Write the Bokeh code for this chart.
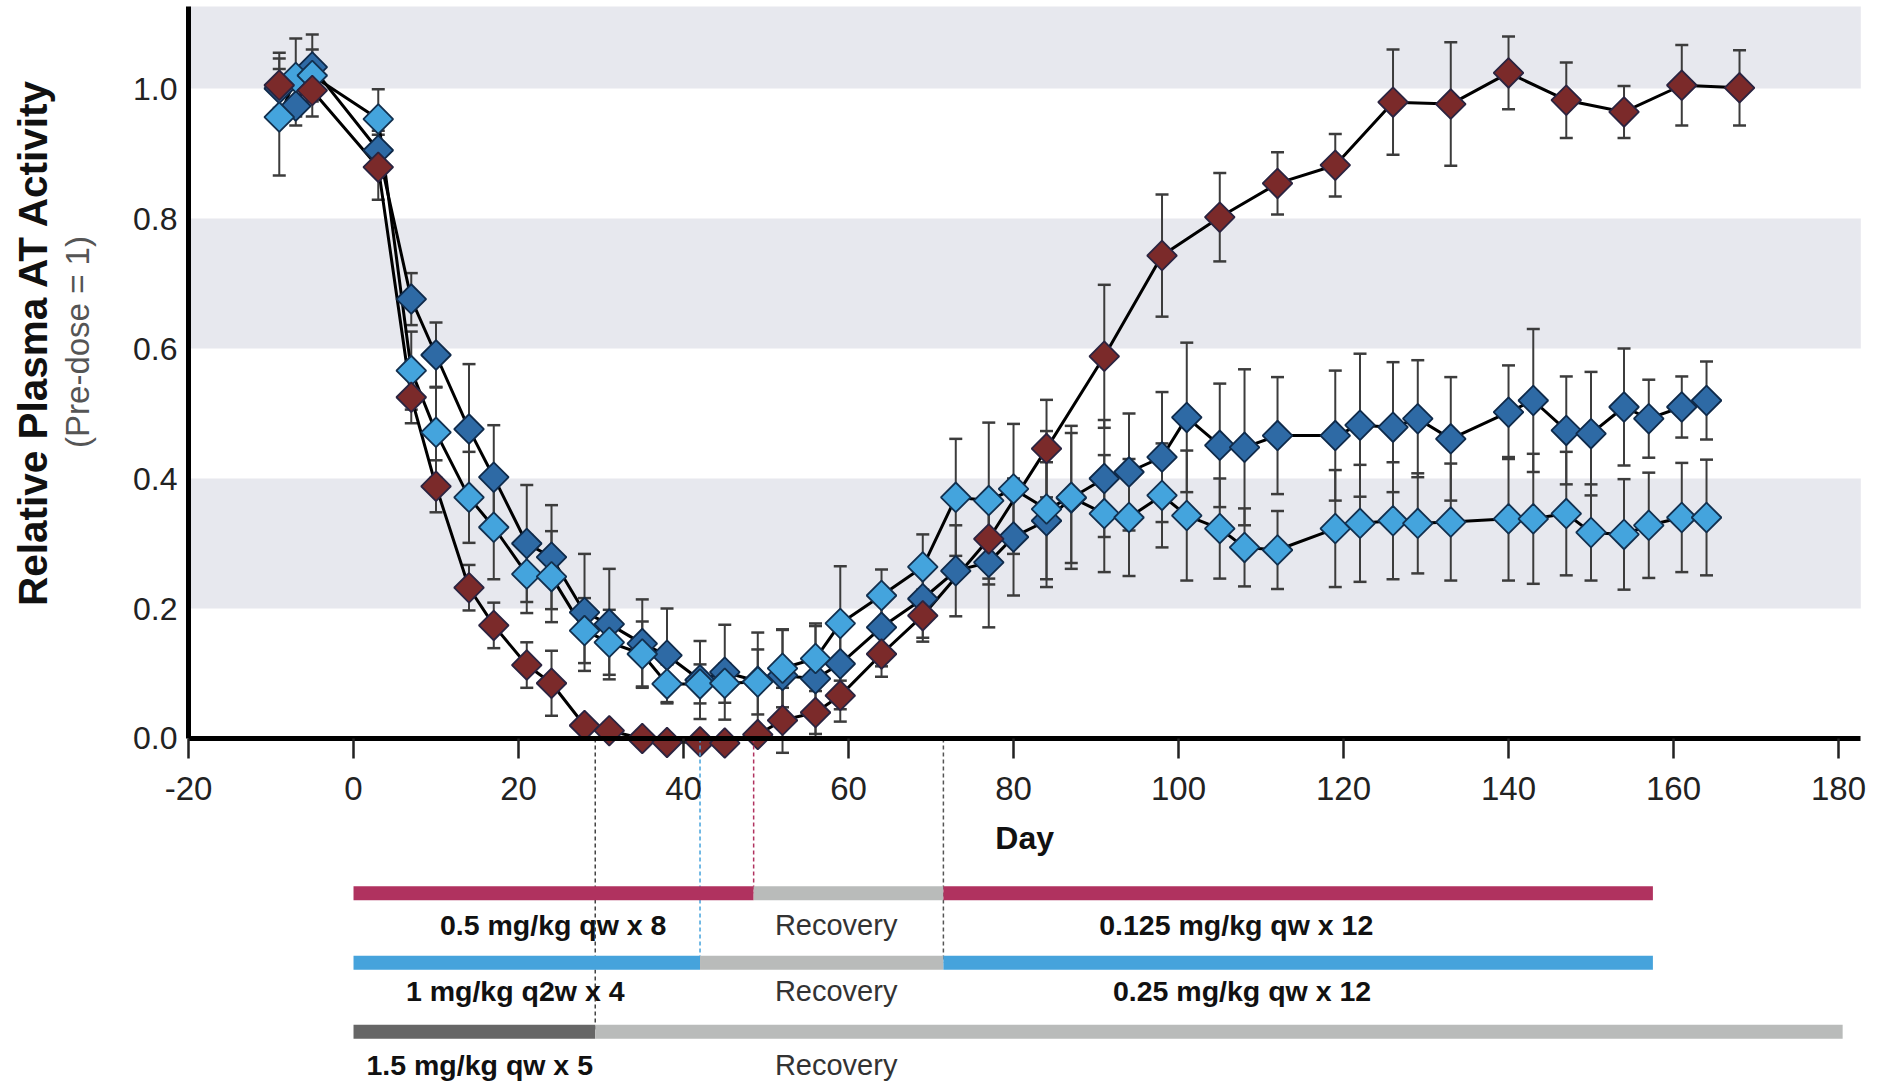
import math
from bokeh.plotting import figure
from bokeh.models import (Range1d, FixedTicker, BoxAnnotation, Whisker, TeeHead,
                          ColumnDataSource, Label, PrintfTickFormatter)
from bokeh.core.properties import value
from bokeh.embed import file_html
from bokeh.resources import INLINE

FONT = "Liberation Sans"

# ---------------- data ----------------
x_ticks = [-20, 0, 20, 40, 60, 80, 100, 120, 140, 160, 180]
y_ticks = [0.0, 0.2, 0.4, 0.6, 0.8, 1.0]
band_lows = [0.2, 0.6, 1.0]
band_highs = [0.4, 0.8, 1.126]

red_day = [-9, -5, 3, 7, 10, 14, 17, 21, 24, 28, 31, 35, 38, 42, 45, 49, 52, 56, 59,
           64, 69, 77, 84, 91, 98, 105, 112, 119, 126, 133, 140, 147, 154, 161, 168]
red_val = [1.005, 0.997, 0.879, 0.525, 0.388, 0.232, 0.174, 0.113, 0.085, 0.020, 0.012,
           0.000, -0.006, -0.005, -0.007, 0.006, 0.028, 0.040, 0.066, 0.130, 0.189,
           0.307, 0.446, 0.588, 0.743, 0.802, 0.854, 0.882, 0.979, 0.976, 1.024, 0.982,
           0.964, 1.005, 1.001]
red_err = [0.05, 0.04, 0.05, 0.04, 0.04, 0.035, 0.035, 0.035, 0.05, 0.012, 0.012,
           0.012, 0.012, 0.01, 0.012, 0.012, 0.05, 0.04, 0.04, 0.035, 0.04,
           0.07, 0.075, 0.11, 0.094, 0.068, 0.048, 0.048, 0.081, 0.095, 0.056, 0.058,
           0.04, 0.062, 0.058]

blue_day = [-9, -7, -5, 3, 7, 10, 14, 17, 21, 24, 28, 31, 35, 38, 42, 45, 49, 52, 56, 59,
            64, 69, 73, 77, 80, 84, 87, 91, 94, 98, 101, 105, 108, 112, 119, 122, 126,
            129, 133, 140, 143, 147, 150, 154, 157, 161, 164]
dark_val = [1.000, 0.973, 1.033, 0.905, 0.676, 0.590, 0.476, 0.402, 0.300, 0.279, 0.194,
            0.176, 0.146, 0.128, 0.090, 0.102, 0.088, 0.097, 0.092, 0.115, 0.171, 0.215,
            0.258, 0.271, 0.310, 0.335, 0.370, 0.400, 0.410, 0.433, 0.494, 0.451, 0.448,
            0.466, 0.466, 0.482, 0.479, 0.492, 0.461, 0.502, 0.520, 0.474, 0.469, 0.510,
            0.492, 0.510, 0.520]
dark_err = [0.03, 0.03, 0.05, 0.03, 0.04, 0.05, 0.10, 0.08, 0.09, 0.08, 0.09, 0.085,
            0.068, 0.072, 0.06, 0.073, 0.075, 0.07, 0.085, 0.07, 0.06, 0.06, 0.07, 0.10,
            0.09, 0.09, 0.10, 0.09, 0.09, 0.10, 0.115, 0.095, 0.12, 0.09, 0.10, 0.11,
            0.10, 0.09, 0.095, 0.072, 0.11, 0.083, 0.095, 0.09, 0.06, 0.047, 0.06]
light_val = [0.956, 1.017, 1.020, 0.953, 0.566, 0.471, 0.371, 0.325, 0.253, 0.249, 0.166,
             0.148, 0.130, 0.084, 0.084, 0.085, 0.087, 0.108, 0.123, 0.177, 0.220, 0.264,
             0.371, 0.366, 0.384, 0.353, 0.371, 0.346, 0.340, 0.374, 0.343, 0.323, 0.294,
             0.290, 0.323, 0.331, 0.335, 0.331, 0.333, 0.338, 0.338, 0.346, 0.317, 0.314,
             0.328, 0.340, 0.340]
light_err = [0.09, 0.06, 0.04, 0.046, 0.06, 0.07, 0.07, 0.08, 0.06, 0.07, 0.05, 0.05,
             0.05, 0.03, 0.03, 0.03, 0.05, 0.06, 0.05, 0.088, 0.04, 0.05, 0.09, 0.12,
             0.10, 0.12, 0.11, 0.09, 0.09, 0.08, 0.10, 0.077, 0.06, 0.06, 0.09, 0.09,
             0.09, 0.077, 0.09, 0.095, 0.10, 0.095, 0.074, 0.085, 0.081, 0.084, 0.089]

# dosing schedule (days)
sched_start = [0, 48.5, 71.5, 0, 42, 71.5, 0, 29.3]
sched_end = [48.5, 71.5, 157.5, 42, 71.5, 157.5, 29.3, 180.5]
sched_row = [0, 0, 0, 1, 1, 1, 2, 2]
sched_kind = ["mag", "rec", "mag", "blue", "rec", "blue", "dose", "rec"]

stop_day = [29.3, 42, 48.5, 71.5]
stop_row = [2, 1, 0, 1]
stop_kind = ["dose", "blue", "mag", "gray"]

label_text = ["0.5 mg/kg qw x 8", "Recovery", "0.125 mg/kg qw x 12",
              "1 mg/kg q2w x 4", "Recovery", "0.25 mg/kg qw x 12",
              "1.5 mg/kg qw x 5", "Recovery"]
label_day = [24.2, 58.5, 107.0, 19.6, 58.5, 107.7, 15.3, 58.5]
label_row = [0, 0, 0, 1, 1, 1, 2, 2]
label_bold = [True, False, True, True, False, True, True, False]

# ---------------- layout / style ----------------
AX_X0, AX_X1 = -20, 182.7        # drawn extent of the x axis
AX_Y1 = 1.126                    # top of the y axis
VIEW_X = (-42.79, 186.30)
VIEW_Y = (-0.5277, 1.1354)
ROW_BAR_Y = [-0.238, -0.345, -0.451]
ROW_TEXT_Y = [-0.287, -0.389, -0.503]
COLORS = {"mag": "#b0325f", "rec": "#b9bbba", "blue": "#46a3dc", "dose": "#666666"}
DASH_COLORS = {"dose": "#444444", "blue": "#46a3dc", "mag": "#b0325f", "gray": "#555555"}

p = figure(width=1890, height=1081, x_range=Range1d(*VIEW_X), y_range=Range1d(*VIEW_Y),
           output_backend="svg", toolbar_location=None, min_border_left=0,
           min_border_right=0, min_border_top=0, min_border_bottom=0)
p.outline_line_color = None
p.grid.visible = False
p.background_fill_color = "white"
p.border_fill_color = "white"

for lo, hi in zip(band_lows, band_highs):
    p.add_layout(BoxAnnotation(bottom=lo, top=hi, left=AX_X0, right=AX_X1,
                               fill_color="#e7e8ee", fill_alpha=1.0,
                               line_color=None, level="underlay"))

xa = p.xaxis[0]
xa.fixed_location = 0
xa.bounds = (AX_X0, AX_X1)
xa.ticker = FixedTicker(ticks=x_ticks)
xa.major_label_overrides = {t: str(t) for t in x_ticks}
xa.axis_line_width = 5
xa.axis_line_color = "black"
xa.major_tick_out = 20
xa.major_tick_in = 0
xa.major_tick_line_width = 2.5
xa.major_tick_line_color = "#222222"
xa.minor_tick_line_color = None
xa.major_label_text_font = FONT
xa.major_label_text_font_size = "33px"
xa.major_label_text_color = "#222222"
xa.major_label_standoff = 19

ya = p.yaxis[0]
ya.fixed_location = AX_X0
ya.bounds = (0, AX_Y1)
ya.ticker = FixedTicker(ticks=y_ticks)
ya.formatter = PrintfTickFormatter(format="%.1f")
ya.axis_line_width = 5
ya.axis_line_color = "black"
ya.major_tick_out = 0
ya.major_tick_in = 0
ya.major_tick_line_color = None
ya.minor_tick_line_color = None
ya.major_label_text_font = FONT
ya.major_label_text_font_size = "32px"
ya.major_label_text_color = "#222222"
ya.major_label_standoff = 11

p.add_layout(Label(x=(AX_X0 + AX_X1) / 2, y=0, y_offset=-100, text="Day",
                   text_align="center", text_baseline="middle", text_font=FONT,
                   text_font_size="32px", text_font_style="bold", text_color="#111111"))
p.add_layout(Label(x=AX_X0, y=0.61, x_offset=-156, text="Relative Plasma AT Activity",
                   angle=math.pi / 2, text_align="center", text_baseline="middle",
                   text_font=FONT, text_font_size="40.5px", text_font_style="bold",
                   text_color="#111111"))
p.add_layout(Label(x=AX_X0, y=0.61, x_offset=-111, text="(Pre-dose = 1)",
                   angle=math.pi / 2, text_align="center", text_baseline="middle",
                   text_font=FONT, text_font_size="33px", text_color="#555555"))

series = [
    (blue_day, dark_val, dark_err, "#2e6aa5", "#0f2a4a"),
    (blue_day, light_val, light_err, "#44a4dd", "#12304f"),
    (red_day, red_val, red_err, "#7b2a2a", "#2b2440"),
]
sources = []
for d, v, e, fc, lc in series:
    src = ColumnDataSource(dict(x=d, y=v, upper=[a + b for a, b in zip(v, e)],
                                lower=[a - b for a, b in zip(v, e)]))
    sources.append(src)
    p.add_layout(Whisker(source=src, base="x", upper="upper", lower="lower",
                         dimension="height", line_color="#3c3c3c", line_width=2,
                         upper_head=TeeHead(size=13, line_color="#3c3c3c", line_width=2.5),
                         lower_head=TeeHead(size=13, line_color="#3c3c3c", line_width=2.5),
                         level="underlay"))

for src in sources:
    p.line("x", "y", source=src, line_color="black", line_width=3)
for src, (d, v, e, fc, lc) in zip(sources, series):
    p.scatter("x", "y", source=src, marker="square", angle=math.pi / 4, size=21,
              fill_color=fc, line_color=lc, line_width=1.8)

# dosing timeline
p.segment(x0=stop_day, y0=[0] * len(stop_day), x1=stop_day,
          y1=[ROW_BAR_Y[r] for r in stop_row],
          line_color=[DASH_COLORS[k] for k in stop_kind], line_width=1.5,
          line_dash="4 3")
p.segment(x0=sched_start, y0=[ROW_BAR_Y[r] for r in sched_row], x1=sched_end,
          y1=[ROW_BAR_Y[r] for r in sched_row],
          line_color=[COLORS[k] for k in sched_kind], line_width=14, line_cap="butt")

bold_idx = [i for i, b in enumerate(label_bold) if b]
norm_idx = [i for i, b in enumerate(label_bold) if not b]
p.text(x=[label_day[i] for i in bold_idx], y=[ROW_TEXT_Y[label_row[i]] for i in bold_idx],
       text=[label_text[i] for i in bold_idx], text_align="center",
       text_baseline="middle", text_font=value(FONT), text_font_style="bold",
       text_font_size="28.5px", text_color="#111111")
p.text(x=[label_day[i] for i in norm_idx], y=[ROW_TEXT_Y[label_row[i]] for i in norm_idx],
       text=[label_text[i] for i in norm_idx], text_align="center",
       text_baseline="middle", text_font=value(FONT),
       text_font_size="29px", text_color="#333333")

open("out.html", "w").write(file_html(p, INLINE))
